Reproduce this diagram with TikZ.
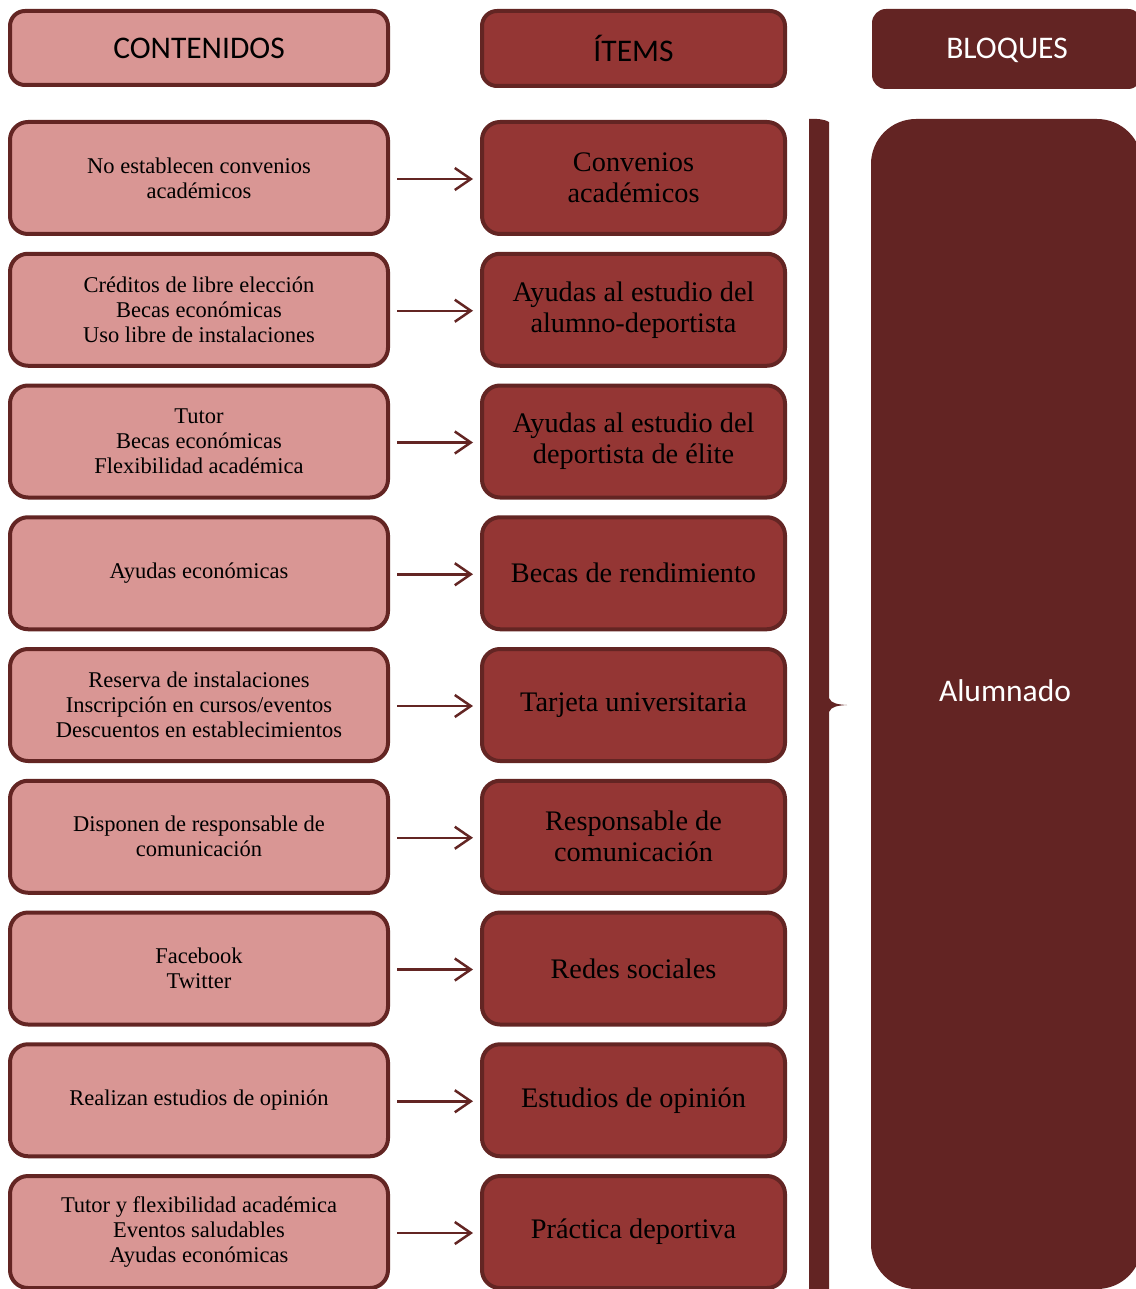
\documentclass[tikz,border=0pt]{standalone}
\usepackage{fontspec}
\setmainfont{Liberation Serif}
\newfontfamily\hdrfont{Carlito}
\usetikzlibrary{arrows.meta}
\definecolor{pinkfill}{HTML}{D99694}
\definecolor{edgecol}{HTML}{632523}
\definecolor{midfill}{HTML}{943634}
\definecolor{blockfill}{HTML}{632423}
\tikzset{
  hdrL/.style={draw=edgecol, line width=4pt, fill=pinkfill, rounded corners=15pt, minimum width=378pt, minimum height=74pt, inner sep=0pt, font=\hdrfont\fontsize{31.5}{36}\selectfont},
  hdrM/.style={hdrL, fill=midfill, minimum width=303pt, minimum height=75pt},
  contbox/.style={draw=edgecol, line width=4pt, fill=pinkfill, rounded corners=18pt, minimum width=378pt, minimum height=112pt, inner sep=2pt, align=center, font=\fontsize{22.5}{25}\selectfont},
  itembox/.style={contbox, fill=midfill, minimum width=303pt, font=\fontsize{28.3}{31}\selectfont},
  arr/.style={draw=edgecol, line width=2.5pt, -{Straight Barb[length=16pt,width=22pt]}, shorten <=7pt, shorten >=7pt},
}
\begin{document}
\begin{tikzpicture}[x=1pt,y=-1pt]
\useasboundingbox (0,0) rectangle (1135,1289);
% headers
\node[hdrL] (hc) at (199,48) {\raisebox{-2pt}{CONTENIDOS}};
\node[hdrM] (hi) at (633.5,48.5) {ÍTEMS};
\node[fill=blockfill, rounded corners=14pt, minimum width=270pt, minimum height=80pt, inner sep=0pt] (hb) at (1007,49) {};
\node[text=white, font=\hdrfont\fontsize{31.5}{36}\selectfont] (hbt) at (1007,50.5) {BLOQUES};
% rows
\foreach \i/\lt/\mt in {
 1/{No establecen convenios\\académicos}/{Convenios\\académicos},
 2/{Créditos de libre elección\\Becas económicas\\Uso libre de instalaciones}/{Ayudas al estudio del\\alumno-deportista},
 3/{Tutor\\Becas económicas\\Flexibilidad académica}/{Ayudas al estudio del\\deportista de élite},
 4/{Ayudas económicas}/{Becas de rendimiento},
 5/{Reserva de instalaciones\\Inscripción en cursos/eventos\\Descuentos en establecimientos}/{Tarjeta universitaria},
 6/{Disponen de responsable de\\comunicación}/{Responsable de\\comunicación},
 7/{Facebook\\Twitter}/{Redes sociales},
 8/{Realizan estudios de opinión}/{Estudios de opinión},
 9/{Tutor y flexibilidad académica\\Eventos saludables\\Ayudas económicas}/{Práctica deportiva}}{
  \node[contbox] (l\i) at (199,{178+(\i-1)*131.75}) {\lt};
  \node[itembox] (m\i) at (633.5,{178+(\i-1)*131.75}) {\mt};
  \draw[arr] ([yshift=-1pt]l\i.east) -- ([yshift=-1pt]m\i.west);
}
% brace
\coordinate (bt) at (809,119);
\fill[blockfill] (bt) .. controls (818,118.5) and (825,119.5) .. (829,122)
  -- (829,698) .. controls (831,703.5) and (838,704.5) .. (847,705)
  .. controls (838,705.5) and (831,706.5) .. (829,712)
  -- (829,1292) -- (809,1292) -- cycle;
% block
\node[fill=blockfill, rounded corners=45pt, minimum width=271pt, minimum height=1170pt, inner sep=0pt] (blk) at (1006.5,704) {};
\node[text=white, font=\hdrfont\fontsize{31.5}{36}\selectfont] (alu) at (1005,691) {Alumnado};
\end{tikzpicture}
\end{document}
